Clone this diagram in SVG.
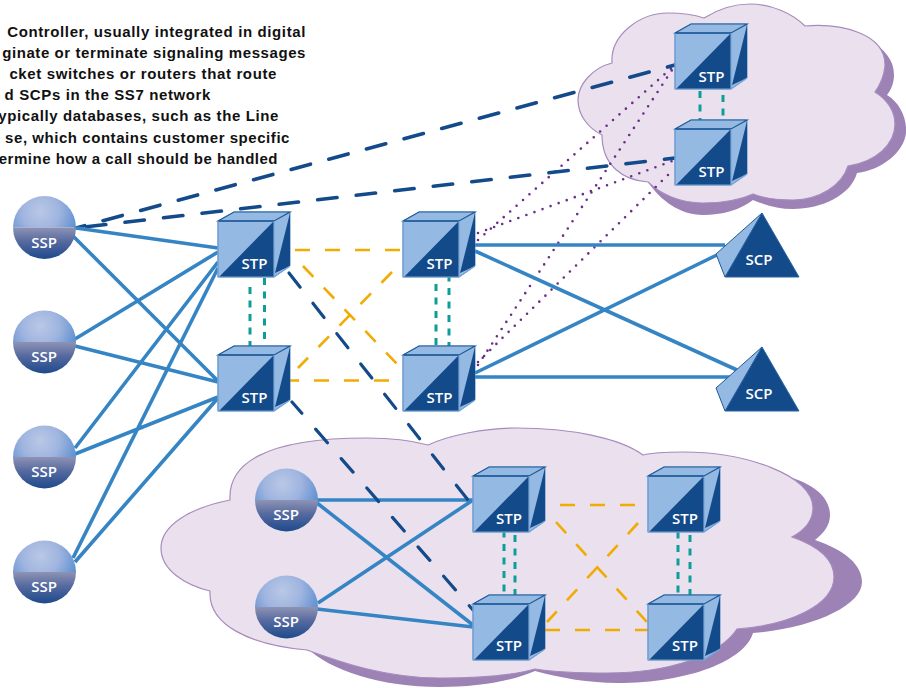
<svg xmlns="http://www.w3.org/2000/svg" width="906" height="688" viewBox="0 0 906 688">
<style>
.cloud{fill:#ebe0ee;stroke:#a58cbd;stroke-width:1.2}
.shadow{fill:#9d82b6}
.note{font:bold 15px "Liberation Sans",Arial,sans-serif;letter-spacing:.62px;fill:#111;text-anchor:end}
.lab{font:600 15px "Open Sans","Noto Sans",sans-serif;fill:#fff;text-anchor:middle}
.solid{fill:none;stroke:#3585c4;stroke-width:3.6}
.sig{fill:none;stroke:#134a8a;stroke-width:3.6;stroke-linecap:round}
.sig2{fill:none;stroke:#134a8a;stroke-width:3.2;stroke-linecap:round}
.or{fill:none;stroke:#f0ac00;stroke-width:2.6;stroke-dasharray:15 15}
.teal{fill:none;stroke:#0f9d9a;stroke-width:3;stroke-dasharray:7 6.500}
.dot{fill:none;stroke:#6b2d8a;stroke-width:2.6;stroke-dasharray:0 8.6;stroke-linecap:round}
</style>
<defs>
<radialGradient id="gTop" gradientUnits="userSpaceOnUse" cx="-4" cy="-16" r="38"><stop offset="0" stop-color="#b9c8e6"/><stop offset="0.5" stop-color="#9fb4df"/><stop offset="1" stop-color="#5f90d0"/></radialGradient>
<linearGradient id="gBot" x1="0" y1="0" x2="0" y2="1"><stop offset="0" stop-color="#8e93b4"/><stop offset="0.45" stop-color="#55699f"/><stop offset="1" stop-color="#1d4a8c"/></linearGradient>
<g id="cube">
<path d="M0,0L16,-9H72V45L56,56H0Z" fill="#94bae4" stroke="#5b8cc4" stroke-width="1"/>
<path d="M0,0L16,-9H72L56,0Z" fill="#94bae4" stroke="#1f5a98" stroke-width="1.2"/>
<path d="M0,0H56" stroke="#1f5a98" stroke-width="1.5"/>
<path d="M56,0V56H1Z" fill="#134a8a"/>
<path d="M72,-8V45L57,52Z" fill="#134a8a"/>
<path d="M0,0V56H56V0M56,56L72,45" fill="none" stroke="#7aa5d6" stroke-width="1.2"/>
</g>
<g id="ball">
<path d="M-31.500,0A31.500,31.500 0 0 1 31.500,0Z" fill="url(#gTop)"/>
<path d="M-31.500,0A31.500,31.500 0 0 0 31.500,0Z" fill="url(#gBot)"/>
</g>
<g id="tri">
<path d="M37,0L74,64H0Z" fill="#134a8a" stroke="#2b65a6" stroke-width="1"/>
<path d="M37,0L-9,41L0,64Z" fill="#94bae4" stroke="#1f5a98" stroke-width="1"/>
</g>
</defs>

<g id="cloud-top">
<path class="shadow" d="M870,40C885,50 894,60 894,75C894,83 891,90 887,95C900,103 907,118 906,133C904,152 882,170 857,173C851,195 822,209 793,209C778,209 765,205 753,200C740,210 722,215 703,215C680,215 660,200 648,182Z"/>
<path class="cloud" d="M704,18C720,8 736,4 750,4C772,4 793,14 805,26C840,23 886,33 885,66C884,76 880,85 875,92C888,100 895,112 895,124C895,145 875,162 848,166C842,185 820,200 793,200C778,200 763,198 753,194C740,200 722,203 703,203C680,203 660,194 648,182C622,180 602,165 602,135C588,128 578,115 578,100C578,85 592,68 612,63C610,35 640,13 668,13C682,13 695,15 704,18Z"/>
</g>
<g id="cloud-bottom">
<path class="shadow" d="M790,477C815,485 830,498 830,515C830,525 824,533 815,540C845,550 862,565 862,582C862,605 815,628 753,633C745,660 690,683 617,683C590,683 560,678 535,671C510,682 475,687 440,687C380,687 330,670 307,648Z"/>
<path class="cloud" d="M428,445C450,435 485,428 517,428C570,428 620,438 643,455C655,452 670,452 683,452C745,452 813,475 813,508C813,520 805,530 792,537C815,545 834,558 834,577C834,605 790,625 737,629C720,655 670,673 607,673C580,673 555,672 535,669C510,676 475,678 440,678C385,678 340,662 307,650C250,645 208,625 210,591C185,585 161,570 161,548C161,525 190,508 230,500C228,465 262,438 367,438C390,438 410,440 428,445Z"/>
</g>

<g id="note">
<text class="note" x="306" y="37">Controller, usually integrated in digital</text>
<text class="note" x="306" y="58" style="letter-spacing:.58px">ginate or terminate signaling messages</text>
<text class="note" x="277" y="79">cket switches or routers that route</text>
<text class="note" x="211" y="100">d SCPs in the SS7 network</text>
<text class="note" x="279" y="121">ypically databases, such as the Line</text>
<text class="note" x="290" y="143" style="letter-spacing:.55px">se, which contains customer specific</text>
<text class="note" x="278" y="164" style="letter-spacing:.5px">ermine how a call should be handled</text>
</g>

<g id="connectors">
<path class="dot" d="M478,240L675,65M478,233L675,160M478,365L672,70M478,362L673,170"/>
<path class="sig" stroke-dasharray="20 19" stroke-dashoffset="11" d="M76,228L675,65"/>
<path class="sig" stroke-dasharray="19.500 19.300" stroke-dashoffset="28.300" d="M76,228L675,158"/>
<path class="solid" d="M76,228L218,248M73,236L218,381M75,339L218,252M75,346L218,382M75,448L218,262M75,454L218,397M73,558L218,268M75,562L218,398"/>
<path class="solid" d="M475,245H725M475,251L737,370M475,373L717,255M475,377H738"/>
<path class="solid" d="M317,500H473M317,503L473,625M318,603L473,500M317,609L473,627"/>
<path class="sig2" stroke-dasharray="18 20.600" d="M289,273L468,500"/>
<path class="sig2" stroke-dasharray="18 21" stroke-dashoffset="3" d="M292,402L473,610"/>
<path class="or" d="M295,250H403M284,380.500H403M303,266L397,364M392,272L298,368"/>
<path class="or" d="M560,505H648M545,630H648M556,522L647,622M638,523L547,622"/>
<path class="teal" d="M250,287V348M264.500,278V343M436,284V347M449,274.500V355M700,91V121M723,95V116M504,530.500V595M515,535V603M678,531.500V595M690,535V603"/>
</g>

<g id="ssp1"><use href="#ball" x="44.500" y="227.500"/><text class="lab" x="44" y="248">SSP</text></g>
<g id="ssp2"><use href="#ball" x="44.500" y="342"/><text class="lab" x="44" y="362">SSP</text></g>
<g id="ssp3"><use href="#ball" x="44.500" y="457"/><text class="lab" x="44" y="477">SSP</text></g>
<g id="ssp4"><use href="#ball" x="44.500" y="572"/><text class="lab" x="44" y="592">SSP</text></g>
<g id="ssp5"><use href="#ball" x="286.500" y="500"/><text class="lab" x="286" y="520">SSP</text></g>
<g id="ssp6"><use href="#ball" x="286.500" y="607"/><text class="lab" x="286" y="627">SSP</text></g>

<g id="stp1"><use href="#cube" x="218" y="221"/><text class="lab" x="254.500" y="269">STP</text></g>
<g id="stp2"><use href="#cube" x="218" y="355"/><text class="lab" x="254.500" y="403">STP</text></g>
<g id="stp3"><use href="#cube" x="403" y="221"/><text class="lab" x="439.500" y="269">STP</text></g>
<g id="stp4"><use href="#cube" x="403" y="355"/><text class="lab" x="439.500" y="403">STP</text></g>
<g id="stp5"><use href="#cube" x="675" y="33"/><text class="lab" x="711.500" y="82">STP</text></g>
<g id="stp6"><use href="#cube" x="675" y="129"/><text class="lab" x="711.500" y="177">STP</text></g>
<g id="stp7"><use href="#cube" x="473" y="476"/><text class="lab" x="509" y="524">STP</text></g>
<g id="stp8"><use href="#cube" x="473" y="604"/><text class="lab" x="509" y="651">STP</text></g>
<g id="stp9"><use href="#cube" x="648" y="476"/><text class="lab" x="685" y="524">STP</text></g>
<g id="stp10"><use href="#cube" x="648" y="604"/><text class="lab" x="685" y="651">STP</text></g>

<g id="scp1"><use href="#tri" x="725" y="213"/><text class="lab" x="759" y="265">SCP</text></g>
<g id="scp2"><use href="#tri" x="725" y="347"/><text class="lab" x="759" y="399">SCP</text></g>
</svg>
